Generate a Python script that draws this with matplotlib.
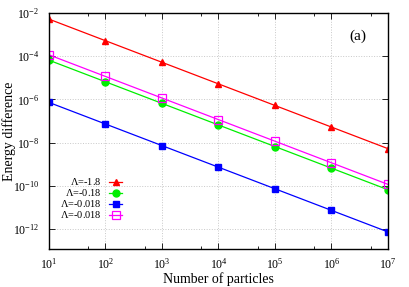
import numpy as np
import matplotlib
matplotlib.use("Agg")
import matplotlib.pyplot as plt
from matplotlib.ticker import FixedLocator, FuncFormatter

plt.rcParams['font.family'] = ['Liberation Serif', 'DejaVu Serif']
plt.rcParams['mathtext.default'] = 'regular'

# Données
particles = [1e1, 1e2, 1e3, 1e4, 1e5, 1e6, 1e7]
diff_a = [5.2e-3, 5.2e-4, 5.2e-5, 5.2e-6, 5.2e-7, 5.2e-8, 5.2e-9]
diff_b = [6.5e-5, 6.5e-6, 6.5e-7, 6.5e-8, 6.5e-9, 6.5e-10, 6.5e-11]
diff_c = [7.2e-7, 7.2e-8, 7.2e-9, 7.2e-10, 7.2e-11, 7.2e-12, 7.2e-13]
diff_d = [1.15e-4, 1.15e-5, 1.15e-6, 1.15e-7, 1.15e-8, 1.15e-9, 1.15e-10]
labels = [r"$\Lambda$=-1.8", r"$\Lambda$=-0.18", r"$\Lambda$=-0.018", r"$\Lambda$=-0.018"]

fig = plt.figure(figsize=(4.09, 2.87), dpi=100)
ax = fig.add_axes([49/409, 1 - 249/287, 339/409, 236/287])

ax.plot(particles, diff_a, color="#ff0000", lw=0.9, marker="^", ms=4.5, label=labels[0])
ax.plot(particles, diff_b, color="#00ee00", lw=0.9, marker="o", ms=5, label=labels[1])
ax.plot(particles, diff_c, color="#0000ff", lw=0.9, marker="s", ms=5, label=labels[2])
ax.plot(particles, diff_d, color="#ff00ff", lw=0.9, marker="s", ms=6, mfc="none",
        mew=0.9, label=labels[3])

ax.set_xscale("log")
ax.set_yscale("log")
ax.set_xlim(1e1, 1e7)
ax.set_ylim(1.17e-13, 1e-2)

ax.xaxis.set_major_locator(FixedLocator([10.0**k for k in range(1, 8)]))
ax.xaxis.set_minor_locator(FixedLocator([5 * 10.0**k for k in range(1, 7)]))
ax.yaxis.set_major_locator(FixedLocator([10.0**k for k in range(-12, -1, 2)]))
ax.yaxis.set_minor_locator(FixedLocator([]))
fmt = FuncFormatter(lambda v, p: "10$^{%d}$" % round(np.log10(v)))
ax.xaxis.set_major_formatter(fmt)
ax.yaxis.set_major_formatter(fmt)
ax.tick_params(which="both", direction="in", top=True, right=True, labelsize=8.5)
ax.tick_params(which="major", length=4, width=0.6)
ax.tick_params(which="minor", length=2, width=0.6)
ax.tick_params(axis="x", pad=6)
ax.tick_params(axis="y", pad=7)

ax.grid(True, which="major", color="#c8c8c8", ls=":", lw=0.7)
for s in ax.spines.values():
    s.set_linewidth(1.0)

ax.set_xlabel("Number of particles", fontsize=10, labelpad=0)
ax.set_ylabel("Energy difference", fontsize=10)
ax.yaxis.set_label_coords(-0.098, 0.5)
ax.text(0.91, 0.9, "(a)", transform=ax.transAxes, fontsize=11, ha="center", va="center")

ax.legend(loc="lower right", bbox_to_anchor=(0.232, 0.1), frameon=False, markerfirst=False,
          fontsize=7.5, handlelength=1.3, labelspacing=0.0, borderpad=0.0,
          handletextpad=0.7)

fig.savefig("out.png", dpi=100)
